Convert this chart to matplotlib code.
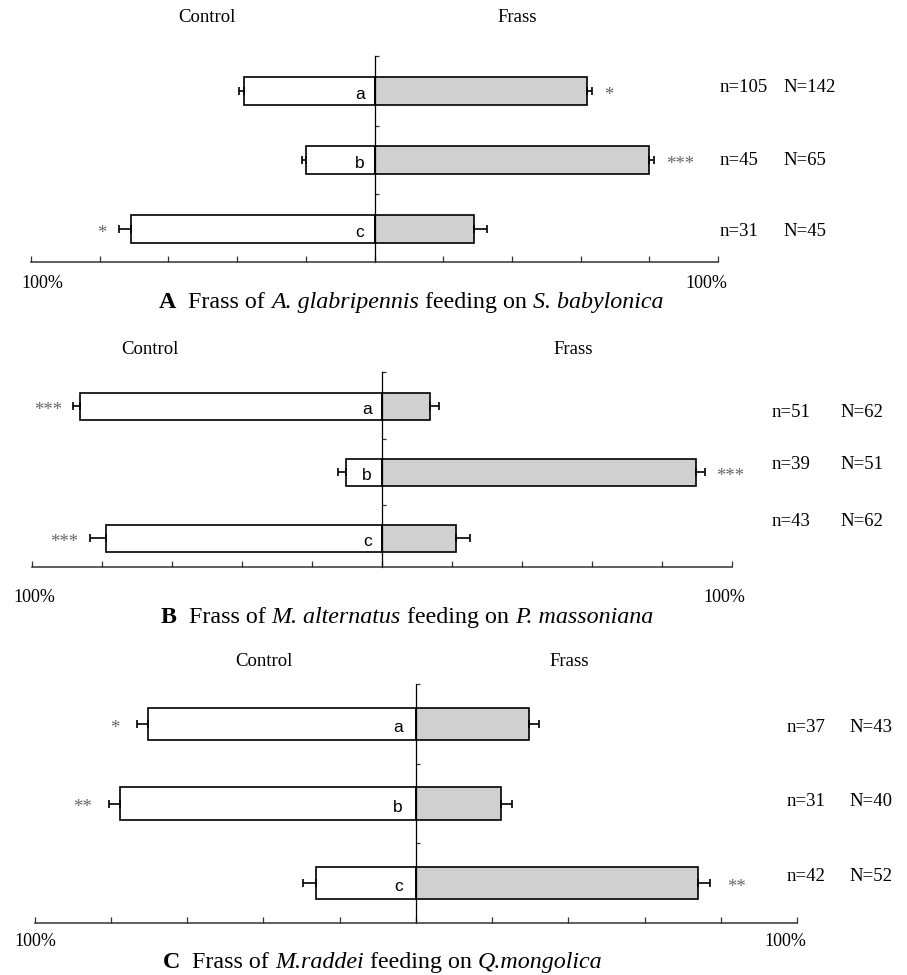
import matplotlib
matplotlib.use("Agg")
import matplotlib.pyplot as plt
import numpy as np
from matplotlib.transforms import offset_copy

# ---------------- data ----------------
rows = ["a", "b", "c"]

A_control = [38.0, 20.0, 71.0]
A_control_err = [1.5, 1.0, 3.5]
A_frass = [62.0, 80.0, 29.0]
A_frass_err = [1.3, 1.5, 3.7]
A_star_control = ["", "", "*"]
A_star_frass = ["*", "***", ""]
A_n = [105, 45, 31]
A_N = [142, 65, 45]

B_control = [86.3, 10.2, 78.9]
B_control_err = [1.8, 2.2, 4.6]
B_frass = [13.7, 89.8, 21.1]
B_frass_err = [2.8, 2.5, 4.0]
B_star_control = ["***", "", "***"]
B_star_frass = ["", "***", ""]
B_n = [51, 39, 43]
B_N = [62, 51, 62]

C_control = [70.2, 77.6, 26.1]
C_control_err = [3.0, 2.9, 3.4]
C_frass = [29.8, 22.4, 73.9]
C_frass_err = [2.5, 2.9, 3.4]
C_star_control = ["*", "**", ""]
C_star_frass = ["", "", "**"]
C_n = [37, 31, 42]
C_N = [43, 40, 52]

titles = [
    [("A", "bold", "normal"), ("  Frass of ", "normal", "normal"), ("A. glabripennis", "normal", "italic"),
     (" feeding on ", "normal", "normal"), ("S. babylonica", "normal", "italic")],
    [("B", "bold", "normal"), ("  Frass of ", "normal", "normal"), ("M. alternatus", "normal", "italic"),
     (" feeding on ", "normal", "normal"), ("P. massoniana", "normal", "italic")],
    [("C", "bold", "normal"), ("  Frass of ", "normal", "normal"), ("M.raddei", "normal", "italic"),
     (" feeding on ", "normal", "normal"), ("Q.mongolica", "normal", "italic")],
]

# ---------------- layout (pixels) ----------------
W, H = 907, 975
SERIF = "Liberation Serif"
SANS = "Liberation Sans"

fig = plt.figure(figsize=(W / 100, H / 100), dpi=100)
fig.patch.set_facecolor("white")


def px(x, y):
    return x / W, 1 - y / H


panels = [
    dict(control=A_control, cerr=A_control_err, frass=A_frass, ferr=A_frass_err,
         sc=A_star_control, sf=A_star_frass, n=A_n, N=A_N,
         box=(31, 718, 56, 262), ylim=(2.48, -0.51),
         nx=(720, 783), noff=[-0.06, 0.01, 0.04],
         head=((207, 18), (517, 18)), pct=((42, 283), (706, 283)),
         title=(159, 308), letter_dx=10, star_gap=12),
    dict(control=B_control, cerr=B_control_err, frass=B_frass, ferr=B_frass_err,
         sc=B_star_control, sf=B_star_frass, n=B_n, N=B_N,
         box=(31.8, 731.6, 371.7, 566.7), ylim=(2.43, -0.52),
         nx=(772, 840), noff=[0.1, -0.12, -0.25],
         head=((150, 349), (573, 349)), pct=((34, 597), (724, 597)),
         title=(161, 623), letter_dx=10, star_gap=11),
    dict(control=C_control, cerr=C_control_err, frass=C_frass, ferr=C_frass_err,
         sc=C_star_control, sf=C_star_frass, n=C_n, N=C_N,
         box=(34.7, 797, 684.3, 922.7), ylim=(2.5, -0.5),
         nx=(787, 849), noff=[0.04, -0.03, -0.08],
         head=((264, 661), (569, 661)), pct=((35, 942), (785, 942)),
         title=(163, 968), letter_dx=13, star_gap=17),
]

renderer = fig.canvas.get_renderer()

for p in panels:
    x0, x1, yt, yb = p["box"]
    ax = fig.add_axes([x0 / W, 1 - yb / H, (x1 - x0) / W, (yb - yt) / H])
    ypos = np.arange(len(rows))
    control = np.array(p["control"])
    frass = np.array(p["frass"])
    cerr = np.array(p["cerr"])
    ferr = np.array(p["ferr"])

    ax.barh(ypos, -control, height=0.41, color="white", edgecolor="black", linewidth=1.2, zorder=2)
    ax.barh(ypos, frass, height=0.41, color="#d0d0d0", edgecolor="black", linewidth=1.2, zorder=2)
    ax.errorbar(-control, ypos, xerr=[cerr, np.zeros_like(cerr)], fmt="none", ecolor="black",
                elinewidth=1.2, capsize=3.2, capthick=1.2, zorder=3)
    ax.errorbar(frass, ypos, xerr=[np.zeros_like(ferr), ferr], fmt="none", ecolor="black",
                elinewidth=1.2, capsize=3.2, capthick=1.2, zorder=3)

    ax.set_xlim(-100, 100)
    ax.set_ylim(*p["ylim"])
    ax.set_xticks(np.arange(-100, 101, 20))
    ax.set_xticklabels([])
    ax.set_yticks([p["ylim"][1], 0.5, 1.5])
    ax.set_yticklabels([])
    ax.tick_params(axis="x", direction="in", length=4, width=0.9, color="#333333")
    ax.tick_params(axis="y", direction="in", length=3, width=0.9, color="#333333")
    for s in ["top", "right"]:
        ax.spines[s].set_visible(False)
    ax.spines["left"].set_position(("data", 0))
    ax.spines["left"].set_linewidth(0.9)
    ax.spines["bottom"].set_linewidth(1.1)
    ax.spines["bottom"].set_color("#333333")
    ax.patch.set_alpha(0)

    # letters inside control bars
    tr_letter = offset_copy(ax.transData, fig=fig, x=-p["letter_dx"], y=-8, units="dots")
    for i, r in enumerate(rows):
        ax.text(0, i, r, transform=tr_letter, ha="right", va="baseline",
                fontsize=12.5, family=SANS, color="black", zorder=4)

    # significance stars
    g = p["star_gap"]
    for i in range(len(rows)):
        if p["sc"][i]:
            tr = offset_copy(ax.transData, fig=fig, x=-g, y=-9, units="dots")
            ax.text(-control[i] - cerr[i], i, p["sc"][i], transform=tr, ha="right",
                    va="baseline", fontsize=13.5, family=SERIF, color="#666666")
        if p["sf"][i]:
            tr = offset_copy(ax.transData, fig=fig, x=g, y=-9, units="dots")
            ax.text(frass[i] + ferr[i], i, p["sf"][i], transform=tr, ha="left",
                    va="baseline", fontsize=13.5, family=SERIF, color="#666666")

    # n / N labels
    for i in range(len(rows)):
        yy = i + p["noff"][i]
        ydisp = ax.transData.transform((0, yy))[1]
        yfig = ydisp / fig.bbox.height
        fig.text(p["nx"][0] / W, yfig, f"n={p['n'][i]}", ha="left", va="center",
                 fontsize=13.5, family=SERIF)
        fig.text(p["nx"][1] / W, yfig, f"N={p['N'][i]}", ha="left", va="center",
                 fontsize=13.5, family=SERIF)

    # headers
    (hcx, hcy), (hfx, hfy) = p["head"]
    fig.text(*px(hcx, hcy), "Control", ha="center", va="center", fontsize=13.5, family=SERIF)
    fig.text(*px(hfx, hfy), "Frass", ha="center", va="center", fontsize=13.5, family=SERIF)

    # 100% labels
    (lx, ly), (rx, ry) = p["pct"]
    fig.text(*px(lx, ly), "100%", ha="center", va="center", fontsize=13, family=SERIF)
    fig.text(*px(rx, ry), "100%", ha="center", va="center", fontsize=13, family=SERIF)

# titles (mixed styles)
for p, segs in zip(panels, titles):
    tx, ty = p["title"]
    xcur = tx
    for txt, wt, st in segs:
        t = fig.text(xcur / W, 1 - ty / H, txt, ha="left", va="baseline", fontsize=17.3,
                     family=SERIF, fontweight=wt, fontstyle=st)
        bb = t.get_window_extent(renderer=renderer)
        xcur = xcur + bb.width

fig.savefig("out.png", dpi=100, facecolor="white")
